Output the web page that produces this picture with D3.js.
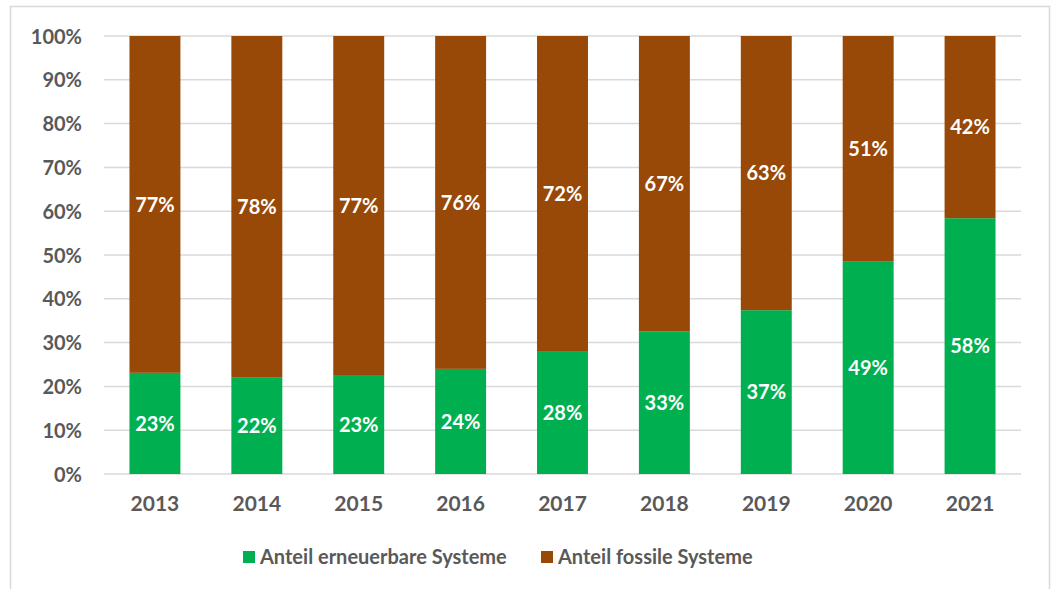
<!DOCTYPE html>
<html><head><meta charset="utf-8">
<script src="https://cdn.jsdelivr.net/npm/d3@7"></script>
<style>body{margin:0;background:#fff;}svg{display:block;font-family:Lato,"Open Sans",sans-serif;}</style>
</head><body>
<svg id="c" width="1054" height="589"></svg>
<script>
const years = ["2013","2014","2015","2016","2017","2018","2019","2020","2021"];
const renewable = [23.1, 22.1, 22.6, 24.0, 27.9, 32.6, 37.4, 48.6, 58.4];
const fossil = [76.9, 77.9, 77.4, 76.0, 72.1, 67.4, 62.6, 51.4, 41.6];
const yTicks = [0,10,20,30,40,50,60,70,80,90,100];
const seriesNames = ["Anteil erneuerbare Systeme","Anteil fossile Systeme"];
const colors = ["#00B050","#984807"];

const svg = d3.select("#c");
svg.append("rect").attr("x",10.5).attr("y",6.5).attr("width",1039).attr("height",600)
  .attr("fill","#fff").attr("stroke","#d9d9d9").attr("stroke-width",1.5);

const x = d3.scaleBand().domain(years).range([104,1021]).paddingInner(0.5).paddingOuter(0.25);
const y = d3.scaleLinear().domain([0,100]).range([474,36]);

const g = svg.append("g");
g.selectAll("line.grid").data(yTicks).join("line").attr("class","grid")
  .attr("x1",104).attr("x2",1021).attr("y1",d=>y(d)).attr("y2",d=>y(d))
  .attr("stroke","#d9d9d9").attr("stroke-width",1.5);

const yAxis = svg.append("g").attr("transform","translate(104,0)")
  .call(d3.axisLeft(y).tickValues(yTicks).tickFormat(d=>d+"%").tickSize(0).tickPadding(22));
yAxis.select(".domain").remove();
yAxis.selectAll("text").attr("font-size",20).attr("font-weight",700).attr("fill","#595959")
  .attr("font-family","Lato,sans-serif").attr("dy","0.35em");

const xAxis = svg.append("g").attr("transform","translate(0,474)")
  .call(d3.axisBottom(x).tickSize(0).tickPadding(22));
xAxis.select(".domain").remove();
xAxis.selectAll("text").attr("font-size",21).attr("font-weight",700).attr("fill","#595959")
  .attr("font-family","Lato,sans-serif").attr("dy","0.71em");

const rows = years.map((yr,i)=>({yr, r:renewable[i], f:fossil[i]}));
const bars = svg.append("g");
bars.selectAll("rect.r").data(rows).join("rect").attr("class","r")
  .attr("x",d=>x(d.yr)).attr("width",x.bandwidth())
  .attr("y",d=>y(d.r)).attr("height",d=>y(0)-y(d.r)).attr("fill",colors[0]);
bars.selectAll("rect.f").data(rows).join("rect").attr("class","f")
  .attr("x",d=>x(d.yr)).attr("width",x.bandwidth())
  .attr("y",d=>y(d.r+d.f)).attr("height",d=>y(d.r)-y(d.r+d.f)).attr("fill",colors[1]);

const lab = svg.append("g").attr("font-size",20).attr("font-weight",700).attr("fill","#fff")
  .attr("text-anchor","middle").attr("font-family","Lato,sans-serif");
lab.selectAll("text.r").data(rows).join("text").attr("class","r")
  .attr("x",d=>x(d.yr)+x.bandwidth()/2).attr("y",d=>(y(0)+y(d.r))/2).attr("dy","0.36em")
  .text(d=>Math.round(d.r)+"%");
lab.selectAll("text.f").data(rows).join("text").attr("class","f")
  .attr("x",d=>x(d.yr)+x.bandwidth()/2).attr("y",d=>(y(d.r)+y(d.r+d.f))/2).attr("dy","0.36em")
  .text(d=>Math.round(d.f)+"%");

const legX = [243, 541];
const leg = svg.append("g");
seriesNames.forEach((n,i)=>{
  leg.append("rect").attr("x",legX[i]).attr("y",551).attr("width",12).attr("height",12).attr("fill",colors[i]);
  leg.append("text").attr("x",legX[i]+17).attr("y",564).attr("font-size",20).attr("font-weight",700)
    .attr("fill","#595959").attr("font-family","Lato,sans-serif").text(n);
});
</script>
</body></html>
